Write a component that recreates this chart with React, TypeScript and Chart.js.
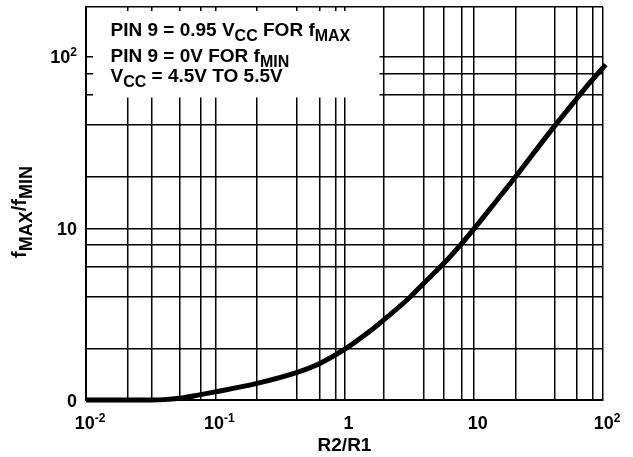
import React, { useEffect, useRef } from 'react';
import { Chart, registerables } from 'chart.js';

Chart.register(...registerables);

// Curve: R2/R1 (x) versus fMAX/fMIN (y)
const ratioR = [0.01, 0.02, 0.03, 0.04, 0.053, 0.077, 0.1, 0.21, 0.43, 0.65, 1.0, 1.585, 2.0, 3.16, 4.0, 6.0, 8.0, 10, 15, 20, 40, 60, 80, 105];
const ratioF = [1.0, 1.0, 1.001, 1.005, 1.024, 1.075, 1.115, 1.25, 1.45, 1.64, 1.97, 2.53, 2.92, 3.93, 4.7, 6.37, 8.1, 9.9, 14.5, 19.0, 37.5, 54.8, 71.3, 90];

// Axis ranges and grid positions
const X_MIN = 0.01;
const X_MAX = 100;
const Y_MIN = 1;
const Y_MAX = 195;
const xGridValues = [0.01, 0.021, 0.032, 0.053, 0.077, 0.1, 0.21, 0.43, 0.64, 0.86, 1, 2, 4.1, 5.9, 8.1, 10, 21, 42, 63, 83, 100];
const yGridValues = [1, 2, 4, 6, 8, 10, 20, 40, 60, 80, 100, 195];

// Tick labels
const xTickValues = [0.01, 0.1, 1, 10, 100];
const xTickBase = ['10', '10', '1', '10', '10'];
const xTickExp = ['-2', '-1', '', '', '2'];
const yTickValues = [1, 10, 100];
const yTickBase = ['0', '10', '10'];
const yTickExp = ['', '', '2'];

const FAMILY = "'Liberation Sans', Arial, Helvetica, sans-serif";

type Run = { t: string; k?: 'sub' | 'sup' };
type Sizes = { main: number; sub: number; sup: number; subDy: number; supDy: number };

const TICK: Sizes = { main: 18, sub: 16, sup: 12, subDy: 5, supDy: -7 };
const BOX: Sizes = { main: 19, sub: 16, sup: 12, subDy: 5, supDy: -7 };
const TITLE_Y: Sizes = { main: 20, sub: 18, sup: 12, subDy: 6, supDy: -7 };

function fontFor(s: Sizes, k?: string) {
  const size = k === 'sub' ? s.sub : k === 'sup' ? s.sup : s.main;
  return `bold ${size}px ${FAMILY}`;
}

function measureRuns(ctx: CanvasRenderingContext2D, runs: Run[], s: Sizes) {
  let w = 0;
  for (const r of runs) {
    ctx.font = fontFor(s, r.k);
    w += ctx.measureText(r.t).width;
  }
  return w;
}

function drawRuns(ctx: CanvasRenderingContext2D, runs: Run[], x: number, y: number, s: Sizes) {
  let cx = x;
  ctx.textAlign = 'left';
  ctx.textBaseline = 'alphabetic';
  for (const r of runs) {
    ctx.font = fontFor(s, r.k);
    const dy = r.k === 'sub' ? s.subDy : r.k === 'sup' ? s.supDy : 0;
    ctx.fillText(r.t, cx, y + dy);
    cx += ctx.measureText(r.t).width;
  }
}

const boxLines: Run[][] = [
  [{ t: 'PIN 9 = 0.95 V' }, { t: 'CC', k: 'sub' }, { t: ' FOR f' }, { t: 'MAX', k: 'sub' }],
  [{ t: 'PIN 9 = 0V FOR f' }, { t: 'MIN', k: 'sub' }],
  [{ t: 'V' }, { t: 'CC', k: 'sub' }, { t: ' = 4.5V TO 5.5V' }],
];
const yTitle: Run[] = [{ t: 'f' }, { t: 'MAX', k: 'sub' }, { t: '/f' }, { t: 'MIN', k: 'sub' }];
const xTitle = 'R2/R1';

const annotate = {
  id: 'annotate',
  beforeDatasetsDraw(chart: any) {
    const { ctx, chartArea: a } = chart;
    ctx.save();
    ctx.fillStyle = '#ffffff';
    ctx.fillRect(a.left + 7, a.top + 4, 286.5, 86.5);
    ctx.restore();
  },
  afterDraw(chart: any) {
    const { ctx, chartArea: a } = chart;
    const xs = chart.scales.x;
    const ys = chart.scales.y;
    ctx.save();
    ctx.fillStyle = '#000';

    // legend box text
    const baselines = [28.7, 54.7, 74.7];
    boxLines.forEach((line, i) => drawRuns(ctx, line, a.left + 24.5, a.top + baselines[i], BOX));

    // y tick labels (right aligned)
    yTickValues.forEach((v, i) => {
      const py = ys.getPixelForValue(v);
      const runs: Run[] = [{ t: yTickBase[i] }];
      if (yTickExp[i]) runs.push({ t: yTickExp[i], k: 'sup' });
      const w = measureRuns(ctx, runs, TICK);
      drawRuns(ctx, runs, a.left - 9 - w, py + 6.5, TICK);
    });

    // x tick labels (centered)
    xTickValues.forEach((v, i) => {
      const px = xs.getPixelForValue(v);
      const runs: Run[] = [{ t: xTickBase[i] }];
      if (xTickExp[i]) runs.push({ t: xTickExp[i], k: 'sup' });
      const w = measureRuns(ctx, runs, TICK);
      drawRuns(ctx, runs, px + 4 - w / 2, a.bottom + 29, TICK);
    });

    // x title
    ctx.font = `bold 19px ${FAMILY}`;
    ctx.textAlign = 'center';
    ctx.fillText(xTitle, (a.left + a.right) / 2, a.bottom + 51);

    // y title (rotated)
    ctx.save();
    ctx.translate(26, (a.top + a.bottom) / 2 + 8.5);
    ctx.rotate(-Math.PI / 2);
    const tw = measureRuns(ctx, yTitle, TITLE_Y);
    drawRuns(ctx, yTitle, -tw / 2, 0, TITLE_Y);
    ctx.restore();

    ctx.restore();
  },
};

export default function App() {
  const ref = useRef<HTMLCanvasElement | null>(null);

  useEffect(() => {
    document.body.style.margin = '0';
    const canvas = ref.current;
    if (!canvas) return;
    const data = ratioR.map((x, i) => ({ x, y: ratioF[i] }));
    const gridCfg = { color: '#000', lineWidth: 1.5, drawTicks: false };
    const chart = new Chart(canvas, {
      type: 'scatter',
      data: {
        datasets: [
          {
            data,
            showLine: true,
            borderColor: '#000',
            backgroundColor: '#000',
            borderWidth: 5,
            borderCapStyle: 'butt',
            pointRadius: 0,
            cubicInterpolationMode: 'monotone',
            clip: false,
          } as any,
        ],
      },
      options: {
        responsive: false,
        animation: false,
        devicePixelRatio: 1,
        layout: { padding: { left: 86, right: 30, top: 7, bottom: 57 } },
        plugins: { legend: { display: false }, tooltip: { enabled: false } },
        scales: {
          x: {
            type: 'logarithmic',
            min: X_MIN,
            max: X_MAX,
            ticks: { display: false },
            grid: gridCfg,
            border: { display: true, color: '#000', width: 2 },
            afterBuildTicks: (s: any) => {
              s.ticks = xGridValues.map((v) => ({ value: v }));
            },
          },
          y: {
            type: 'logarithmic',
            min: Y_MIN,
            max: Y_MAX,
            ticks: { display: false },
            grid: gridCfg,
            border: { display: true, color: '#000', width: 2 },
            afterBuildTicks: (s: any) => {
              s.ticks = yGridValues.map((v) => ({ value: v }));
            },
          },
        },
      } as any,
      plugins: [annotate],
    });
    return () => chart.destroy();
  }, []);

  return (
    <div style={{ width: 633, height: 457, background: '#fff' }}>
      <canvas ref={ref} width={633} height={457} style={{ display: 'block' }} />
    </div>
  );
}
